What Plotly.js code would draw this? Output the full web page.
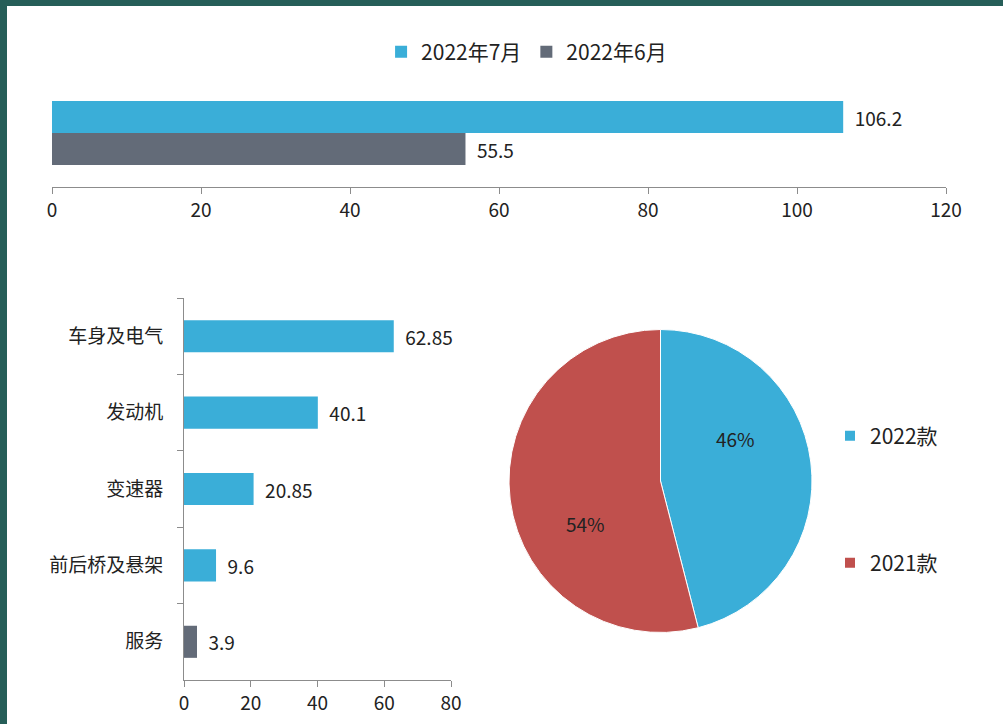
<!DOCTYPE html>
<html>
<head>
<meta charset="utf-8">
<script src="https://cdn.plot.ly/plotly-3.0.1.min.js"></script>
<style>
  html, body { margin: 0; padding: 0; background: #ffffff; }
  #chart { width: 1003px; height: 724px; }
</style>
</head>
<body>
<div id="chart"></div>
<script>
// ---- Data ----
const topCategory = ['合计'];
const julyName = '2022年7月';
const juneName = '2022年6月';
const julyValues = [106.2];
const juneValues = [55.5];

const partCategories = ['车身及电气', '发动机', '变速器', '前后桥及悬架', '服务'];
const partValues = [62.85, 40.1, 20.85, 9.6, 3.9];

const pieLabels = ['2022款', '2021款'];
const pieValues = [46, 54];

// ---- Styles ----
const BLUE = '#3aaed8';
const GRAY = '#636b78';
const RED = '#c0504d';
const TEAL = '#265e58';
const FONT = '"Noto Sans CJK SC", "Noto Sans", sans-serif';
const TXT = '#222222';
const AX = '#8c8c8c';

const W = 1003, H = 724;
const px = v => v / W;
const py = v => 1 - v / H;

const partColors = partCategories.map((c, i) => i === partCategories.length - 1 ? GRAY : BLUE);
const labelTpl = '\u00a0\u00a0%{x}';

// pie geometry (domain) and percent labels computed from the data
const pieX = [px(509), px(812)];
const pieY = [py(633), py(329)];
const pieTotal = pieValues.reduce((a, b) => a + b, 0);
const pieCx = (509 + 812) / 2, pieCy = (329 + 633) / 2, pieR = (812 - 509) / 2;
let cum = 0;
const pieAnnotations = pieValues.map(v => {
  const mid = (cum + v / 2) / pieTotal * 360 - 22;
  cum += v;
  const rad = mid * Math.PI / 180;
  const r = 0.57 * pieR;
  return {
    xref: 'paper', yref: 'paper',
    x: px(pieCx + r * Math.sin(rad)), y: py(pieCy - r * Math.cos(rad)),
    xanchor: 'center', yanchor: 'middle', showarrow: false,
    text: Math.round(v / pieTotal * 100) + '%',
    font: { family: FONT, size: 19, color: TXT }
  };
});

const traces = [
  {
    type: 'bar', orientation: 'h', name: juneName,
    y: topCategory, x: juneValues,
    marker: { color: GRAY },
    texttemplate: labelTpl, textposition: 'outside',
    textfont: { family: FONT, size: 19, color: TXT },
    cliponaxis: false,
    xaxis: 'x', yaxis: 'y', legend: 'legend', hoverinfo: 'x+name'
  },
  {
    type: 'bar', orientation: 'h', name: julyName,
    y: topCategory, x: julyValues,
    marker: { color: BLUE },
    texttemplate: labelTpl, textposition: 'outside',
    textfont: { family: FONT, size: 19, color: TXT },
    cliponaxis: false,
    xaxis: 'x', yaxis: 'y', legend: 'legend', hoverinfo: 'x+name'
  },
  {
    type: 'bar', orientation: 'h', name: '零部件',
    y: partCategories, x: partValues,
    marker: { color: partColors },
    texttemplate: labelTpl, textposition: 'outside',
    textfont: { family: FONT, size: 19, color: TXT },
    cliponaxis: false,
    xaxis: 'x2', yaxis: 'y2', showlegend: false
  },
  {
    type: 'pie', labels: pieLabels, values: pieValues,
    sort: false, direction: 'clockwise', rotation: 0,
    marker: { colors: [BLUE, RED], line: { color: '#ffffff', width: 1 } },
    textinfo: 'none',
    domain: { x: pieX, y: pieY },
    showlegend: false
  },
  // legend entries for the pie slices, spaced like the reference
  {
    type: 'scatter', mode: 'markers', name: pieLabels[0],
    x: [null], y: [null], xaxis: 'x3', yaxis: 'y3',
    marker: { symbol: 'square', size: 10, color: BLUE },
    legend: 'legend2', hoverinfo: 'skip'
  },
  {
    type: 'scatter', mode: 'markers', name: pieLabels[1],
    x: [null], y: [null], xaxis: 'x3', yaxis: 'y3',
    marker: { symbol: 'square', size: 10, color: RED },
    legend: 'legend3', hoverinfo: 'skip'
  }
];

const tickFont = { family: FONT, size: 19, color: TXT };
const legFont = { family: FONT, size: 21, color: TXT };

const layout = {
  width: W, height: H,
  margin: { l: 0, r: 0, t: 0, b: 0 },
  paper_bgcolor: '#ffffff', plot_bgcolor: 'rgba(0,0,0,0)',
  font: { family: FONT, size: 19, color: TXT },
  barmode: 'group', bargap: 0.58, bargroupgap: 0,
  showlegend: true,
  legend: {
    orientation: 'h', traceorder: 'reversed',
    x: 0.525, xanchor: 'center', y: py(52), yanchor: 'middle',
    font: legFont, itemwidth: 30, bgcolor: 'rgba(0,0,0,0)'
  },
  legend2: {
    x: px(830), xanchor: 'left', y: py(436), yanchor: 'middle',
    font: legFont, itemwidth: 30, bgcolor: 'rgba(0,0,0,0)'
  },
  legend3: {
    x: px(830), xanchor: 'left', y: py(563), yanchor: 'middle',
    font: legFont, itemwidth: 30, bgcolor: 'rgba(0,0,0,0)'
  },
  xaxis: {
    domain: [px(52), px(946)], anchor: 'y',
    range: [0, 120], dtick: 20, tick0: 0,
    showline: true, linecolor: AX, linewidth: 1,
    ticks: 'outside', ticklen: 6, tickcolor: AX,
    showgrid: false, zeroline: false,
    tickfont: tickFont, fixedrange: true
  },
  yaxis: {
    domain: [py(187), py(101)], anchor: 'x',
    range: [-0.354, 0.21],
    showticklabels: false, showline: false, ticks: '',
    showgrid: false, zeroline: false, fixedrange: true
  },
  xaxis2: {
    domain: [px(184), px(451)], anchor: 'y2',
    range: [0, 80], dtick: 20, tick0: 0,
    showline: true, linecolor: AX, linewidth: 1,
    ticks: 'outside', ticklen: 6, tickcolor: AX,
    showgrid: false, zeroline: false,
    tickfont: tickFont, fixedrange: true
  },
  yaxis2: {
    domain: [py(680), py(298)], anchor: 'x2',
    type: 'category', categoryorder: 'array', categoryarray: partCategories,
    range: [partCategories.length - 0.5, -0.5],
    showline: true, linecolor: AX, linewidth: 1,
    ticks: 'outside', ticklen: 6, tickcolor: AX, tickson: 'boundaries',
    ticklabelstandoff: 16,
    showgrid: false, zeroline: false,
    tickfont: tickFont, fixedrange: true
  },
  xaxis3: { domain: [0.9, 0.91], anchor: 'y3', visible: false, range: [0, 1] },
  yaxis3: { domain: [0.9, 0.91], anchor: 'x3', visible: false, range: [0, 1] },
  annotations: pieAnnotations,
  shapes: [
    { type: 'rect', xref: 'paper', yref: 'paper', x0: 0, x1: px(7), y0: 0, y1: 1,
      fillcolor: TEAL, line: { width: 0 }, layer: 'above' },
    { type: 'rect', xref: 'paper', yref: 'paper', x0: 0, x1: 1, y0: py(6), y1: 1,
      fillcolor: TEAL, line: { width: 0 }, layer: 'above' }
  ]
};

Plotly.newPlot('chart', traces, layout, { displayModeBar: false, staticPlot: true });
</script>
</body>
</html>
